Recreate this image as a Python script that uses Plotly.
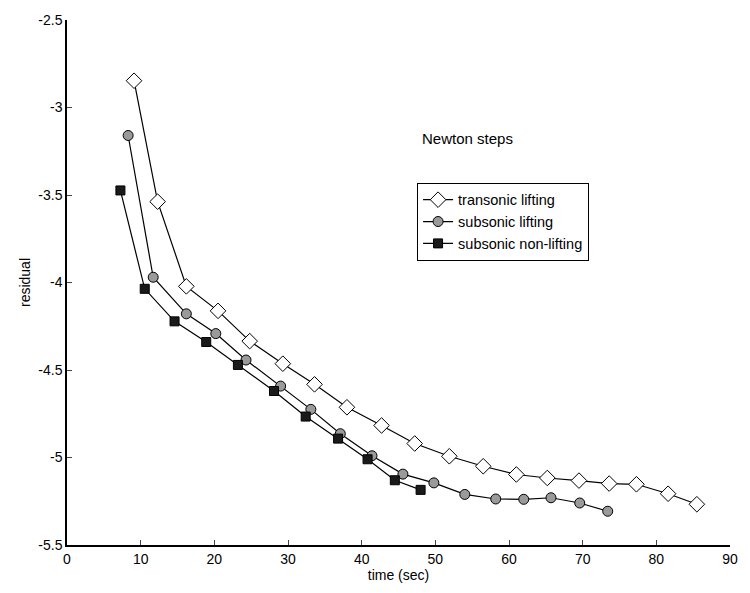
import plotly.graph_objects as go

# transonic lifting
t_tr = [9.1, 12.3, 16.2, 20.5, 24.8, 29.3, 33.6, 38.0, 42.7, 47.2, 51.9, 56.5,
        61.0, 65.2, 69.5, 73.6, 77.3, 81.6, 85.5]
r_tr = [-2.847, -3.538, -4.022, -4.162, -4.335, -4.464, -4.582, -4.713, -4.817,
        -4.92, -4.993, -5.05, -5.097, -5.117, -5.132, -5.149, -5.153, -5.207, -5.267]

# subsonic lifting
t_sl = [8.3, 11.7, 16.2, 20.2, 24.3, 29.0, 33.1, 37.1, 41.4, 45.6, 49.8, 54.0,
        58.2, 62.0, 65.7, 69.6, 73.4]
r_sl = [-3.16, -3.97, -4.179, -4.292, -4.443, -4.592, -4.725, -4.864, -4.99,
        -5.095, -5.145, -5.211, -5.237, -5.239, -5.23, -5.26, -5.307]

# subsonic non-lifting
t_snl = [7.25, 10.55, 14.6, 18.9, 23.2, 28.1, 32.4, 36.8, 40.8, 44.5, 48.0]
r_snl = [-3.474, -4.036, -4.222, -4.34, -4.471, -4.62, -4.766, -4.892, -5.01,
         -5.13, -5.185]

x_ticks = [0, 10, 20, 30, 40, 50, 60, 70, 80, 90]
y_ticks = [-5.5, -5, -4.5, -4, -3.5, -3, -2.5]
y_tick_text = ["-5.5", "-5", "-4.5", "-4", "-3.5", "-3", "-2.5"]

fig = go.Figure()
fig.add_trace(go.Scatter(
    x=t_tr, y=r_tr, mode="lines+markers", name="transonic lifting",
    line=dict(color="black", width=1.2),
    marker=dict(symbol="diamond", size=12, color="white",
                line=dict(color="black", width=1))))
fig.add_trace(go.Scatter(
    x=t_sl, y=r_sl, mode="lines+markers", name="subsonic lifting",
    line=dict(color="black", width=1.2),
    marker=dict(symbol="circle", size=10, color="#9a9a9a",
                line=dict(color="black", width=1))))
fig.add_trace(go.Scatter(
    x=t_snl, y=r_snl, mode="lines+markers", name="subsonic non-lifting",
    line=dict(color="black", width=1.2),
    marker=dict(symbol="square", size=9, color="#1a1a1a",
                line=dict(color="black", width=1))))

font = "Liberation Sans, Arial, sans-serif"
fig.update_layout(
    width=750, height=593,
    margin=dict(l=67, r=12, t=14, b=48),
    paper_bgcolor="white", plot_bgcolor="white",
    font=dict(family=font, size=14, color="black"),
    showlegend=True,
    legend=dict(x=0.528, y=0.69, xanchor="left", yanchor="top",
                bordercolor="black", borderwidth=1, bgcolor="white",
                font=dict(size=14.5), tracegroupgap=0, itemwidth=30),
    annotations=[dict(text="Newton steps", xref="paper", yref="paper",
                      x=0.532, y=0.774, xanchor="left", yanchor="middle",
                      showarrow=False, font=dict(size=15))],
)
fig.update_xaxes(
    range=[0, 90], tickvals=x_ticks, ticks="inside", ticklen=5,
    showline=True, linecolor="black", linewidth=1.5, mirror=False,
    showgrid=False, zeroline=False, tickfont=dict(size=14),
    title=dict(text="time (sec)", standoff=0, font=dict(size=14)))
fig.update_yaxes(
    range=[-5.5, -2.5], tickvals=y_ticks, ticktext=y_tick_text,
    ticks="inside", ticklen=5,
    showline=True, linecolor="black", linewidth=1.5, mirror=False,
    showgrid=False, zeroline=False, tickfont=dict(size=14),
    title=dict(text="residual", standoff=4, font=dict(size=14)))

fig.write_html("out.html")
